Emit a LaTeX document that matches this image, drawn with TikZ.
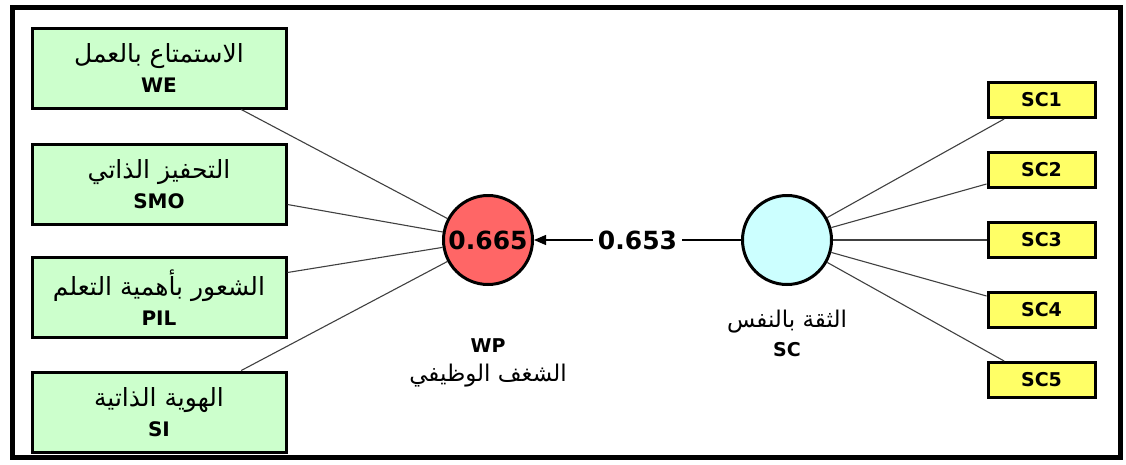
\documentclass[tikz,border=0pt]{standalone}
\usepackage{fontspec}
\setmainfont{DejaVu Sans}
\newfontfamily\arabicfont[Script=Arabic]{DejaVu Sans}
\TeXXeTstate=1
\usetikzlibrary{arrows.meta,calc}
\definecolor{boxgreen}{HTML}{CCFFCC}
\definecolor{boxyellow}{HTML}{FFFF66}
\definecolor{wpred}{HTML}{FF6666}
\definecolor{sccyan}{HTML}{CCFFFF}
\definecolor{linkgray}{HTML}{404040}
\newcommand{\ar}[2][25]{{\fontsize{#1}{#1}\selectfont\arabicfont\beginR #2\endR}}
\begin{document}
\begin{tikzpicture}[x=1pt,y=-1pt,
  dimbox/.style={draw=black,line width=3pt,fill=boxgreen,minimum width=254pt,minimum height=80pt,align=center,font=\fontsize{20}{30}\selectfont,inner sep=0pt},
  itembox/.style={draw=black,line width=3pt,fill=boxyellow,minimum width=107pt,minimum height=35pt,font=\fontsize{19}{20}\selectfont\bfseries,inner sep=0pt},
  latent/.style={circle,draw=black,line width=3pt,minimum size=89pt,inner sep=0pt,font=\fontsize{25}{28}\selectfont\bfseries},
  link/.style={draw=linkgray,line width=1.1pt},
  caption/.style={align=center,font=\fontsize{19}{29}\selectfont}
]
\useasboundingbox (0,0) rectangle (1126,464);
\draw[line width=5pt] (12.5,7.5) rectangle (1120,457);

% left indicator boxes
\node[dimbox] (WE)  at (159,68)    {\ar{الاستمتاع بالعمل}\\\textbf{WE}};
\node[dimbox] (SMO) at (159,184.5) {\ar{التحفيز الذاتي}\\\textbf{SMO}};
\node[dimbox] (PIL) at (159,297.5) {\ar{الشعور بأهمية التعلم}\\\textbf{PIL}};
\node[dimbox] (SI)  at (159,412)   {\ar{الهوية الذاتية}\\\textbf{SI}};

% latent variables
\node[latent,fill=wpred] (WP) at (488,240) {0.665};
\node[latent,fill=sccyan] (SC) at (787,240) {};

\node[caption] (WPlab) at (488,363) {\textbf{WP}\\\ar[23]{الشغف الوظيفي}};
\node[caption] (SClab) at (787,333) {\ar[23]{الثقة بالنفس}\\\textbf{SC}};

% right indicator boxes
\node[itembox] (SC1) at (1041.5,100) {SC1};
\node[itembox] (SC2) at (1041.5,170) {SC2};
\node[itembox] (SC3) at (1041.5,240) {SC3};
\node[itembox] (SC4) at (1041.5,310) {SC4};
\node[itembox] (SC5) at (1041.5,380) {SC5};

% anchor points
\coordinate (weA) at ($(WE.south west)!0.82!(WE.south east)$);
\coordinate (smoA) at ($(SMO.east)+(0,20)$);
\coordinate (pilA) at ($(PIL.east)+(0,-25)$);
\coordinate (siA) at ($(SI.north west)!0.82!(SI.north east)$);
\coordinate (sc1A) at ($(SC1.south west)!0.16!(SC1.south east)$);
\coordinate (sc2A) at ($(SC2.west)+(0,14)$);
\coordinate (sc3A) at (SC3.west);
\coordinate (sc4A) at ($(SC4.west)+(0,-14)$);
\coordinate (sc5A) at ($(SC5.north west)!0.16!(SC5.north east)$);

\draw[link] (weA) -- (WP);
\draw[link] (smoA) -- (WP);
\draw[link] (pilA) -- (WP);
\draw[link] (siA) -- (WP);
\draw[link] (sc1A) -- (SC);
\draw[link] (sc2A) -- (SC);
\draw[link] (sc3A) -- (SC);
\draw[link] (sc4A) -- (SC);
\draw[link] (sc5A) -- (SC);

\draw[line width=1.3pt,-{Triangle[length=12pt,width=10pt]}] (SC) -- node[fill=white,inner sep=5pt,font=\fontsize{25}{28}\selectfont\bfseries] (coef) {0.653} (WP);
\end{tikzpicture}
\end{document}
